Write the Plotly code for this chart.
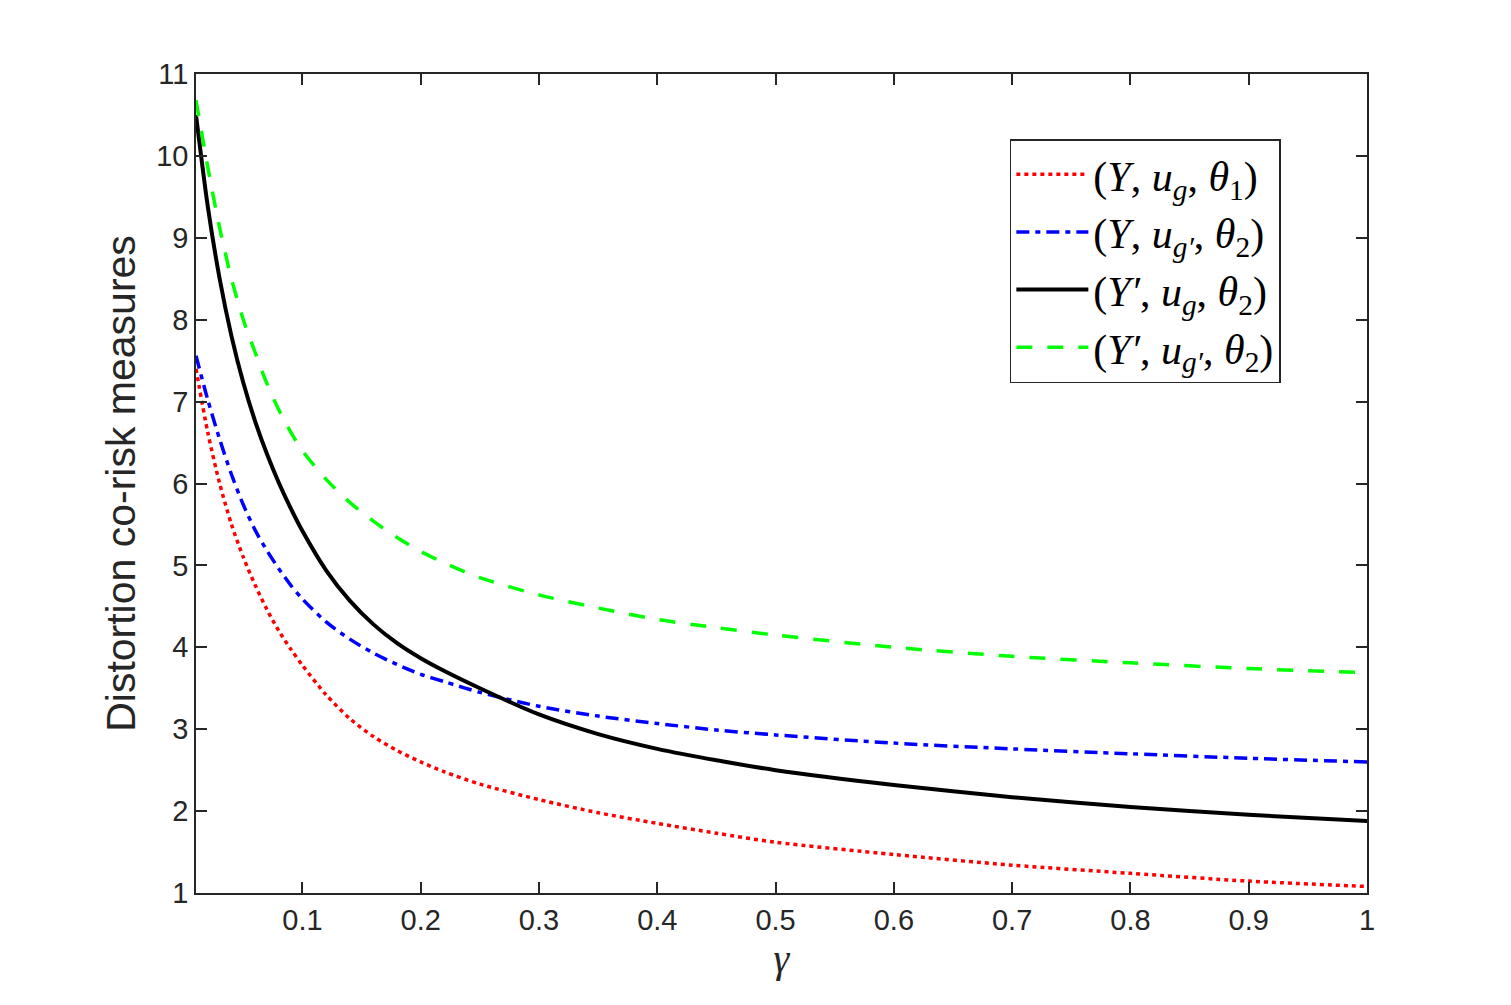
import plotly.graph_objects as go

gamma = [0.01, 0.02, 0.03, 0.04, 0.05, 0.06, 0.07, 0.08, 0.09, 0.1, 0.12, 0.14, 0.16, 0.18,
         0.2, 0.22, 0.25, 0.3, 0.35, 0.4, 0.45, 0.5, 0.6, 0.7, 0.8, 0.9, 1.0]

red_Y_ug_t1 = [7.40, 6.62, 6.00, 5.50, 5.10, 4.76, 4.46, 4.20, 3.98, 3.78, 3.42, 3.13, 2.91, 2.74,
               2.60, 2.48, 2.33, 2.14, 1.98, 1.85, 1.73, 1.62, 1.47, 1.34, 1.24, 1.145, 1.08]
blue_Y_ugp_t2 = [7.56, 7.02, 6.54, 6.11, 5.74, 5.43, 5.18, 4.96, 4.76, 4.59, 4.31, 4.10, 3.93, 3.79,
                 3.67, 3.58, 3.45, 3.28, 3.16, 3.07, 2.99, 2.93, 2.83, 2.76, 2.70, 2.645, 2.60]
black_Yp_ug_t2 = [10.50, 9.38, 8.50, 7.80, 7.23, 6.76, 6.36, 6.01, 5.70, 5.42, 4.94, 4.57, 4.28, 4.05,
                  3.866, 3.71, 3.50, 3.18, 2.94, 2.76, 2.62, 2.50, 2.32, 2.17, 2.05, 1.955, 1.88]
green_Yp_ugp_t2 = [10.68, 9.86, 9.12, 8.50, 8.00, 7.60, 7.22, 6.90, 6.63, 6.40, 6.05, 5.77, 5.54, 5.34,
                   5.17, 5.03, 4.85, 4.64, 4.48, 4.34, 4.24, 4.15, 4.00, 3.89, 3.81, 3.74, 3.69]

x_ticks = [0.1, 0.2, 0.3, 0.4, 0.5, 0.6, 0.7, 0.8, 0.9, 1]
x_tick_labels = ["0.1", "0.2", "0.3", "0.4", "0.5", "0.6", "0.7", "0.8", "0.9", "1"]
y_ticks = list(range(1, 12))

names = [
    "(<i>Y</i>, <i>u</i><sub><i>g</i></sub>, <i>θ</i><sub>1</sub>)",
    "(<i>Y</i>, <i>u</i><sub><i>g′</i></sub>, <i>θ</i><sub>2</sub>)",
    "(<i>Y′</i>, <i>u</i><sub><i>g</i></sub>, <i>θ</i><sub>2</sub>)",
    "(<i>Y′</i>, <i>u</i><sub><i>g′</i></sub>, <i>θ</i><sub>2</sub>)",
]

fig = go.Figure()
fig.add_trace(go.Scatter(x=gamma, y=red_Y_ug_t1, mode="lines", name=names[0],
                         line=dict(color="#ff0000", width=3.5, dash="4px,4px", shape="spline", smoothing=0.8)))
fig.add_trace(go.Scatter(x=gamma, y=blue_Y_ugp_t2, mode="lines", name=names[1],
                         line=dict(color="#0000ff", width=3.5, dash="13px,6px,5px,6px", shape="spline", smoothing=0.8)))
fig.add_trace(go.Scatter(x=gamma, y=black_Yp_ug_t2, mode="lines", name=names[2],
                         line=dict(color="#000000", width=4, shape="spline", smoothing=0.8)))
fig.add_trace(go.Scatter(x=gamma, y=green_Yp_ugp_t2, mode="lines", name=names[3],
                         line=dict(color="#00ff00", width=3.5, dash="16px,15px", shape="spline", smoothing=0.8)))

axis_common = dict(
    showline=True, linecolor="#262626", linewidth=1.5, mirror="ticks",
    ticks="inside", ticklen=11, tickwidth=1.5, tickcolor="#262626",
    showgrid=False, zeroline=False,
    tickfont=dict(family="Liberation Sans, Arial, sans-serif", size=29, color="#262626"),
)

fig.update_layout(
    width=1511, height=1005,
    margin=dict(l=196, r=144, t=74, b=112),
    plot_bgcolor="white", paper_bgcolor="white",
    xaxis=dict(range=[0.01, 1], tickvals=x_ticks, ticktext=x_tick_labels,
               title=dict(text="<i>γ</i>", standoff=6,
                          font=dict(family="Liberation Serif, serif", size=40, color="#262626")),
               **axis_common),
    yaxis=dict(range=[1, 11], tickvals=y_ticks,
               title=dict(text="Distortion co-risk measures", standoff=8,
                          font=dict(family="Liberation Sans, Arial, sans-serif", size=41, color="#262626")),
               **axis_common),
    legend=dict(x=0.695, y=0.9206, xanchor="left", yanchor="top",
                bgcolor="white", bordercolor="#262626", borderwidth=1.5,
                font=dict(family="Liberation Serif, serif", size=42, color="#000000"),
                tracegroupgap=0, itemwidth=72),
    showlegend=True,
)

fig.write_html("out.html")
